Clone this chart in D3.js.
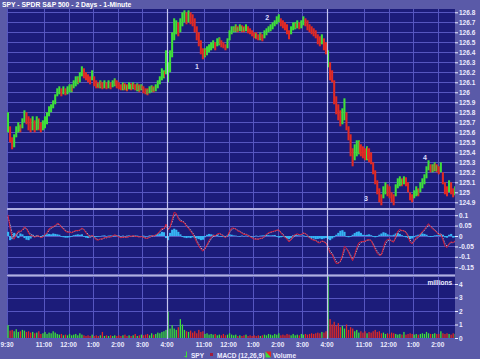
<!DOCTYPE html>
<html>
<head>
<meta charset="utf-8">
<script src="https://cdn.jsdelivr.net/npm/d3@7"></script>
<style>
body { margin:0; background:#5a5aa8; }
svg { display:block; }
text { font-family: "Liberation Sans", Arial, sans-serif; }
</style>
</head>
<body>
<div id="viz"></div>
<script>
'use strict';

var title = "SPY - SPDR S&P 500 - 2 Days - 1-Minute";

// time is minutes since the first open, one session = 390 min (9:30 - 4:00)
var tickTimes = [0, 90, 150, 210, 270, 330, 390, 480, 540, 600, 660, 720, 780, 870, 930, 990, 1050];
var tickLabels = ["9:30","11:00","12:00","1:00","2:00","3:00","4:00","11:00","12:00","1:00","2:00","3:00","4:00","11:00","12:00","1:00","2:00"];
var dayBreaks = [390, 780];
var sessionStarts = [0, 390, 780];
var openBarUp = [true, true, true];

var priceTicks = [124.9,125,125.1,125.2,125.3,125.4,125.5,125.6,125.7,125.8,125.9,126,126.1,126.2,126.3,126.4,126.5,126.6,126.7,126.8];
var macdTicks = [0.1, 0.05, 0, -0.05, -0.1, -0.15];
var volTicks = [0, 1, 2, 3, 4];

// 5 minute slots: high / low of the price, peak 1-min volume (millions), MACD histogram
var day1Hi = [125.80,125.66,125.55,125.58,125.66,125.70,125.68,125.74,125.82,125.80,
  125.76,125.74,125.76,125.72,125.76,125.74,125.70,125.72,125.76,125.80,
  125.86,125.88,125.92,125.98,126.04,126.06,126.04,126.06,126.04,126.06,
  126.08,126.08,126.12,126.16,126.16,126.20,126.26,126.24,126.20,126.18,
  126.16,126.22,126.16,126.12,126.10,126.12,126.10,126.12,126.10,126.12,
  126.10,126.12,126.14,126.12,126.10,126.08,126.10,126.09,126.08,126.10,
  126.09,126.10,126.08,126.09,126.08,126.08,126.06,126.04,126.04,126.06,
  126.07,126.06,126.08,126.12,126.16,126.24,126.22,126.42];
var day1Lo = [125.60,125.50,125.43,125.45,125.55,125.60,125.60,125.64,125.70,125.68,
  125.62,125.60,125.62,125.60,125.62,125.62,125.60,125.62,125.64,125.68,
  125.76,125.80,125.84,125.88,125.96,125.98,125.96,125.98,125.97,125.98,
  126.00,126.00,126.04,126.06,126.08,126.10,126.16,126.14,126.12,126.10,
  126.08,126.12,126.06,126.04,126.04,126.04,126.03,126.04,126.03,126.04,
  126.03,126.05,126.06,126.04,126.03,126.02,126.02,126.02,126.01,126.03,
  126.02,126.03,126.02,126.01,126.00,126.02,125.99,125.98,125.97,125.99,
  126.00,126.00,126.01,126.04,126.08,126.12,126.14,126.18];
var day1Vol = [0.95,0.55,0.6,0.5,0.65,0.45,0.5,0.6,0.55,0.45,
  0.5,0.4,0.45,0.35,0.4,0.5,0.3,0.35,0.45,0.3,
  0.4,0.35,0.5,0.4,0.3,0.25,0.3,0.2,0.25,0.2,
  0.3,0.2,0.25,0.3,0.2,0.35,0.25,0.2,0.15,0.2,
  0.15,0.25,0.15,0.2,0.15,0.2,0.45,0.15,0.2,0.15,
  0.2,0.15,0.2,0.15,0.2,0.15,0.2,0.25,0.15,0.2,
  0.15,0.2,0.3,0.15,0.2,0.25,0.2,0.25,0.3,0.2,
  0.35,0.25,0.3,0.4,0.35,0.45,0.5,0.6];
var day1Hist = [0.02,-0.02,-0.015,0.015,0.01,-0.01,0.012,0.008,-0.01,-0.018,
  -0.02,-0.012,0.006,-0.005,0.004,-0.004,-0.006,0.004,0.006,0.008,
  0.01,0.008,0.012,0.01,0.008,0.006,-0.004,-0.006,-0.008,-0.008,
  -0.006,-0.004,0.004,0.006,0.008,0.006,0.008,-0.004,-0.008,-0.01,
  -0.008,-0.004,-0.006,-0.004,-0.003,-0.002,0.002,0.003,-0.002,0.002,
  0.003,0.002,-0.002,0.002,0.003,-0.002,0.002,-0.003,0.002,0.003,
  -0.002,-0.003,0.002,0.002,-0.003,-0.004,0.002,-0.003,-0.002,0.003,
  0.004,0.003,0.006,0.008,0.012,0.02,0.018,-0.01];

var day2Hi = [126.30,126.42,126.60,126.74,126.72,126.70,126.74,126.80,126.82,126.80,
  126.82,126.80,126.78,126.74,126.66,126.60,126.52,126.44,126.44,126.46,
  126.48,126.50,126.52,126.50,126.54,126.55,126.52,126.50,126.48,126.54,
  126.62,126.66,126.66,126.68,126.66,126.68,126.67,126.66,126.68,126.66,
  126.64,126.62,126.60,126.60,126.58,126.60,126.58,126.62,126.64,126.66,
  126.68,126.70,126.72,126.76,126.78,126.74,126.72,126.70,126.68,126.62,
  126.66,126.70,126.70,126.72,126.70,126.72,126.76,126.74,126.72,126.68,
  126.66,126.64,126.62,126.58,126.56,126.58,126.54,126.50];
var day2Lo = [126.10,126.20,126.35,126.52,126.58,126.56,126.60,126.66,126.70,126.68,
  126.70,126.68,126.66,126.60,126.52,126.46,126.38,126.33,126.35,126.37,
  126.40,126.42,126.44,126.42,126.46,126.47,126.45,126.44,126.42,126.44,
  126.52,126.58,126.60,126.60,126.60,126.61,126.60,126.60,126.61,126.59,
  126.58,126.56,126.54,126.53,126.52,126.52,126.51,126.54,126.57,126.60,
  126.61,126.63,126.66,126.68,126.70,126.66,126.64,126.62,126.58,126.53,
  126.58,126.62,126.63,126.64,126.63,126.64,126.67,126.66,126.62,126.60,
  126.58,126.56,126.54,126.48,126.46,126.48,126.42,126.38];
var day2Vol = [1.95,0.7,0.95,0.7,0.6,0.8,1.4,1.0,0.6,0.5,
  0.45,0.55,0.4,0.5,0.35,0.6,0.45,0.5,0.3,0.35,
  0.25,0.3,0.25,0.3,0.2,0.25,0.2,0.3,0.2,0.25,
  0.35,0.25,0.2,0.25,0.15,0.2,0.15,0.2,0.25,0.15,
  0.2,0.15,0.2,0.15,0.2,0.15,0.2,0.25,0.2,0.3,
  0.25,0.2,0.3,0.25,0.35,0.2,0.25,0.2,0.3,0.25,
  0.2,0.3,0.2,0.25,0.2,0.3,0.25,0.3,0.25,0.3,
  0.35,0.3,0.35,0.4,0.35,0.45,0.4,0.5];
var day2Hist = [-0.02,0.015,0.03,0.035,0.03,0.02,0.008,-0.005,-0.008,-0.01,
  -0.008,-0.01,-0.006,-0.01,-0.012,-0.015,-0.02,-0.018,-0.006,0.006,
  0.01,0.008,0.006,0.004,0.005,-0.003,-0.004,-0.005,-0.004,0.004,
  0.008,0.006,0.003,0.002,-0.002,-0.003,0.002,-0.002,0.002,-0.002,
  -0.003,-0.002,-0.003,0.002,-0.002,0.002,0.003,0.004,0.005,0.004,
  0.003,0.004,0.005,-0.004,-0.008,-0.006,-0.004,-0.006,-0.01,-0.015,
  -0.01,0.004,0.006,0.004,0.003,0.002,0.003,-0.003,-0.005,-0.008,
  -0.01,-0.012,-0.015,-0.014,-0.012,-0.015,-0.012,-0.01];

var day3Hi = [126.42,126.30,126.22,126.12,125.96,125.88,125.82,125.84,125.94,125.80,
  125.66,125.58,125.44,125.48,125.52,125.52,125.48,125.46,125.44,125.46,
  125.44,125.40,125.30,125.22,125.12,125.04,124.98,125.06,125.10,125.08,
  125.06,125.00,124.98,125.08,125.14,125.16,125.14,125.16,125.15,125.10,
  125.00,124.98,125.02,125.06,125.04,125.10,125.14,125.18,125.26,125.32,
  125.28,125.28,125.30,125.28,125.26,125.30,125.20,125.10,125.06,125.12,
  125.10,125.04,125.06];
var day3Lo = [126.25,126.12,126.10,125.88,125.78,125.72,125.66,125.68,125.72,125.62,
  125.52,125.36,125.26,125.32,125.36,125.38,125.36,125.34,125.32,125.32,
  125.30,125.28,125.18,125.08,124.98,124.90,124.87,124.94,124.98,124.96,
  124.94,124.90,124.87,124.96,125.04,125.06,125.06,125.08,125.06,125.00,
  124.92,124.90,124.94,124.96,124.96,125.00,125.04,125.08,125.14,125.22,
  125.20,125.20,125.21,125.20,125.18,125.20,125.08,124.98,124.96,125.00,
  124.98,124.95,124.97];
var day3Vol = [5.2,1.4,1.0,1.2,0.9,1.1,0.8,0.9,0.7,1.0,
  0.6,0.8,0.7,0.5,0.6,0.4,0.5,0.4,0.5,0.35,
  0.45,0.4,0.5,0.6,0.45,0.5,0.35,0.4,0.3,0.35,
  0.3,0.4,0.35,0.3,0.25,0.3,0.25,0.45,0.25,0.3,
  0.35,0.3,0.25,0.3,0.25,0.3,0.35,0.3,0.45,0.35,
  0.3,0.3,0.35,0.3,0.3,0.5,0.35,0.3,0.35,0.3,
  0.25,0.35,0.3];
var day3Hist = [-0.015,-0.02,-0.012,-0.006,0.006,0.015,0.025,0.028,0.02,-0.004,
  -0.006,-0.004,0.006,0.014,0.02,0.022,0.015,0.006,0.004,0.006,
  0.008,0.004,-0.004,-0.006,-0.004,0.006,0.012,0.018,0.015,0.008,
  0.004,0.003,0.006,0.012,0.015,0.01,0.004,-0.003,-0.006,-0.01,
  -0.015,-0.012,-0.006,0.003,0.006,0.008,0.012,0.01,0.006,-0.003,
  -0.005,-0.004,0.003,0.004,0.008,0.01,0.006,-0.006,-0.008,0.006,
  0.01,-0.008,-0.006];

// MACD level carried over from the session before the chart starts
var macdStart = 0.1, signalStart = 0.07;

var noteLabels = ["1", "2", "3", "4"];
var noteTimes = [463, 634, 875, 1019];
var notePrices = [126.26, 126.75, 124.94, 125.35];

var W = 480, H = 359;
var left = 7, right = 455;
var slotLen = 5;
var flatMove = 0.015;   // slots that barely move show both colours

var bgColor = "#5a5aa8", plotColor = "#1c1c7a", gridColor = "#5656c0";
var upColor = "#3ee03a", downColor = "#e02a24", textColor = "#ececff";

// build slots
var slots = [];
[[day1Hi, day1Lo, day1Vol, day1Hist], [day2Hi, day2Lo, day2Vol, day2Hist], [day3Hi, day3Lo, day3Vol, day3Hist]].forEach(function(day, d) {
    day[0].forEach(function(h, i) {
	slots.push({t: sessionStarts[d] + i * slotLen, day: d, first: i === 0,
		    hi: h, lo: day[1][i], vol: day[2][i], hist: day[3][i], mid: (h + day[1][i]) / 2});
    });
});
slots.forEach(function(s, i) {
    if (s.first) {
	s.up = openBarUp[s.day];
	s.flat = false;
    } else {
	var move = s.mid - slots[i - 1].mid;
	s.up = move >= 0;
	s.flat = Math.abs(move) < flatMove;
    }
});

// MACD(12,26,9) on 1-minute periods, stepped in 5 minute slots
function alphaFor(n) { return 1 - Math.pow(1 - 2 / (n + 1), slotLen); }
var a12 = alphaFor(12), a26 = alphaFor(26), a9 = alphaFor(9);
var e12 = slots[0].mid, e26 = slots[0].mid - macdStart, sig = signalStart;
slots.forEach(function(s, i) {
    if (i > 0) {
	e12 += a12 * (s.mid - e12);
	e26 += a26 * (s.mid - e26);
    }
    s.macd = e12 - e26;
    sig += a9 * (s.macd - sig);
    s.signal = sig;
});

var panels = {
    price: {top: 9, bottom: 208},
    macd: {top: 210, bottom: 274.5},
    vol: {top: 276.5, bottom: 339}
};

var x = d3.scaleLinear().domain([0, 1092]).range([left, right]);
var yP = d3.scaleLinear().domain([124.9, 126.8]).range([202.3, 12.3]);
var yM = d3.scaleLinear().domain([-0.15, 0.1]).range([267.2, 215.2]);
var yV = d3.scaleLinear().domain([0, 4]).range([338, 284]);

var svg = d3.select("#viz").append("svg")
    .attr("width", W)
    .attr("height", H);

svg.append("rect").attr("width", W).attr("height", H).attr("fill", bgColor);

var defs = svg.append("defs");
Object.keys(panels).forEach(function(k) {
    var p = panels[k];
    svg.append("rect")
	.attr("x", left).attr("y", p.top)
	.attr("width", right - left).attr("height", p.bottom - p.top)
	.attr("fill", plotColor);
    defs.append("clipPath").attr("id", "clip-" + k)
	.append("rect")
	.attr("x", left).attr("y", p.top)
	.attr("width", right - left).attr("height", p.bottom - p.top);
});

// panel separators
[208, 274.5].forEach(function(y) {
    svg.append("rect").attr("x", left).attr("y", y).attr("width", right - left).attr("height", 2)
	.attr("fill", "#b0b0e2");
});

// grid
function hGrid(scale, ticks) {
    svg.append("g").selectAll("line").data(ticks).enter().append("line")
	.attr("x1", left).attr("x2", right)
	.attr("y1", function(d) { return Math.round(scale(d)) + 0.5; })
	.attr("y2", function(d) { return Math.round(scale(d)) + 0.5; })
	.attr("stroke", gridColor).attr("stroke-width", 1);
}
hGrid(yP, priceTicks);
hGrid(yM, macdTicks);
hGrid(yV, volTicks);

Object.keys(panels).forEach(function(k) {
    var p = panels[k];
    svg.append("g").selectAll("line").data(tickTimes).enter().append("line")
	.attr("x1", function(d) { return Math.round(x(d)) + 0.5; })
	.attr("x2", function(d) { return Math.round(x(d)) + 0.5; })
	.attr("y1", p.top).attr("y2", p.bottom)
	.attr("stroke", gridColor).attr("stroke-width", 1);
});

// price candles (one per 5 min slot, flat slots split in two colours)
var slotW = x(slotLen) - x(0);
var candles = svg.append("g").attr("clip-path", "url(#clip-price)")
    .selectAll("g").data(slots).enter().append("g");
candles.append("rect")
    .attr("x", function(d) { return x(d.t); })
    .attr("width", slotW)
    .attr("y", function(d) { return yP(d.hi); })
    .attr("height", function(d) { return Math.max(1, yP(d.lo) - yP(d.hi)); })
    .attr("fill", function(d) { return d.up ? upColor : downColor; });
candles.filter(function(d) { return d.flat; }).append("rect")
    .attr("x", function(d) { return x(d.t) + (d.up ? slotW / 2 : 0); })
    .attr("width", slotW / 2)
    .attr("y", function(d) { return yP(d.hi) + 1; })
    .attr("height", function(d) { return Math.max(1, yP(d.lo) - yP(d.hi) - 2); })
    .attr("fill", function(d) { return d.up ? downColor : upColor; });

// MACD histogram, signal and line
svg.append("g").attr("clip-path", "url(#clip-macd)")
    .selectAll("rect").data(slots).enter().append("rect")
    .attr("x", function(d) { return x(d.t); })
    .attr("width", slotW + 0.1)
    .attr("y", function(d) { return Math.min(yM(0), yM(d.hist)); })
    .attr("height", function(d) { return Math.abs(yM(d.hist) - yM(0)); })
    .attr("fill", "#36b4f4");

var macdG = svg.append("g").attr("clip-path", "url(#clip-macd)");
macdG.append("path").datum(slots)
    .attr("d", d3.line().x(function(d) { return x(d.t + slotLen / 2); }).y(function(d) { return yM(d.signal); }))
    .attr("fill", "none").attr("stroke", "#b8b8c8").attr("stroke-width", 1).attr("stroke-dasharray", "1.5,1");
macdG.append("path").datum(slots)
    .attr("d", d3.line().x(function(d) { return x(d.t + slotLen / 2); }).y(function(d) { return yM(d.macd); }))
    .attr("fill", "none").attr("stroke", "#d01c3c").attr("stroke-width", 1);

// volume
svg.append("g").attr("clip-path", "url(#clip-vol)")
    .selectAll("rect").data(slots).enter().append("rect")
    .attr("x", function(d) { return x(d.t) + 0.4; })
    .attr("width", 1.3)
    .attr("y", function(d) { return yV(d.vol); })
    .attr("height", function(d) { return yV(0) - yV(d.vol); })
    .attr("fill", function(d) { return d.up ? upColor : downColor; });

// day separators
svg.append("g").selectAll("line").data(dayBreaks).enter().append("line")
    .attr("x1", function(d) { return Math.round(x(d)) + 0.5; })
    .attr("x2", function(d) { return Math.round(x(d)) + 0.5; })
    .attr("y1", panels.price.top).attr("y2", panels.vol.bottom)
    .attr("stroke", "#c4c4f0").attr("stroke-width", 1.2);

// right axes
function rightAxis(scale, ticks, fmt) {
    var g = svg.append("g")
	.attr("transform", "translate(" + right + ",0)")
	.call(d3.axisRight(scale).tickValues(ticks).tickSize(3).tickPadding(1).tickFormat(fmt));
    g.select(".domain").remove();
    g.selectAll(".tick line").attr("stroke", textColor);
    g.selectAll(".tick text").attr("fill", textColor)
	.style("font-size", "6.5px").style("font-weight", "bold").style("font-family", "'Liberation Sans', Arial, sans-serif");
}
rightAxis(yP, priceTicks, function(d) { return String(+d.toFixed(1)); });
rightAxis(yM, macdTicks, function(d) { return String(+d.toFixed(2)); });
rightAxis(yV, volTicks, function(d) { return String(d); });

svg.append("text").attr("x", 452).attr("y", 285).attr("text-anchor", "end")
    .attr("fill", textColor).style("font-size", "6.5px").style("font-weight", "bold")
    .text("millions");

// time labels
svg.append("g").selectAll("text").data(tickTimes).enter().append("text")
    .attr("x", function(d) { return x(d); })
    .attr("y", 346.5)
    .attr("text-anchor", "middle")
    .attr("fill", textColor)
    .style("font-size", "6.5px").style("font-weight", "bold")
    .text(function(d, i) { return tickLabels[i]; });

// title
svg.append("text").attr("x", 2).attr("y", 7.3)
    .attr("fill", "#ffffff").style("font-size", "6.8px").style("font-weight", "bold")
    .text(title);

// numbered notes
svg.append("g").selectAll("text").data(noteLabels).enter().append("text")
    .attr("x", function(d, i) { return x(noteTimes[i]); })
    .attr("y", function(d, i) { return yP(notePrices[i]) + 2.5; })
    .attr("text-anchor", "middle")
    .attr("fill", "#dcdcff")
    .style("font-size", "7px").style("font-weight", "bold")
    .text(function(d) { return d; });

// legend
var lg = svg.append("g").style("font-size", "6.5px").style("font-weight", "bold");
lg.append("line").attr("x1", 186.5).attr("x2", 186.5).attr("y1", 351.5).attr("y2", 357.5)
    .attr("stroke", upColor).attr("stroke-width", 1);
lg.append("line").attr("x1", 184.5).attr("x2", 186.5).attr("y1", 356.5).attr("y2", 356.5)
    .attr("stroke", upColor).attr("stroke-width", 1);
lg.append("text").attr("x", 191).attr("y", 357.5).attr("fill", textColor).text("SPY");
lg.append("rect").attr("x", 210).attr("y", 353).attr("width", 3).attr("height", 3).attr("fill", "#a01c3c");
lg.append("text").attr("x", 217).attr("y", 357.5).attr("fill", textColor).text("MACD (12,26,9)");
lg.append("path").attr("d", "M265.5,351.5 L271,351.5 L271,357.5 Z").attr("fill", downColor);
lg.append("path").attr("d", "M265.5,351.5 L265.5,357.5 L271,357.5 Z").attr("fill", upColor);
lg.append("text").attr("x", 273).attr("y", 357.5).attr("fill", textColor).text("Volume");
</script>
</body>
</html>
